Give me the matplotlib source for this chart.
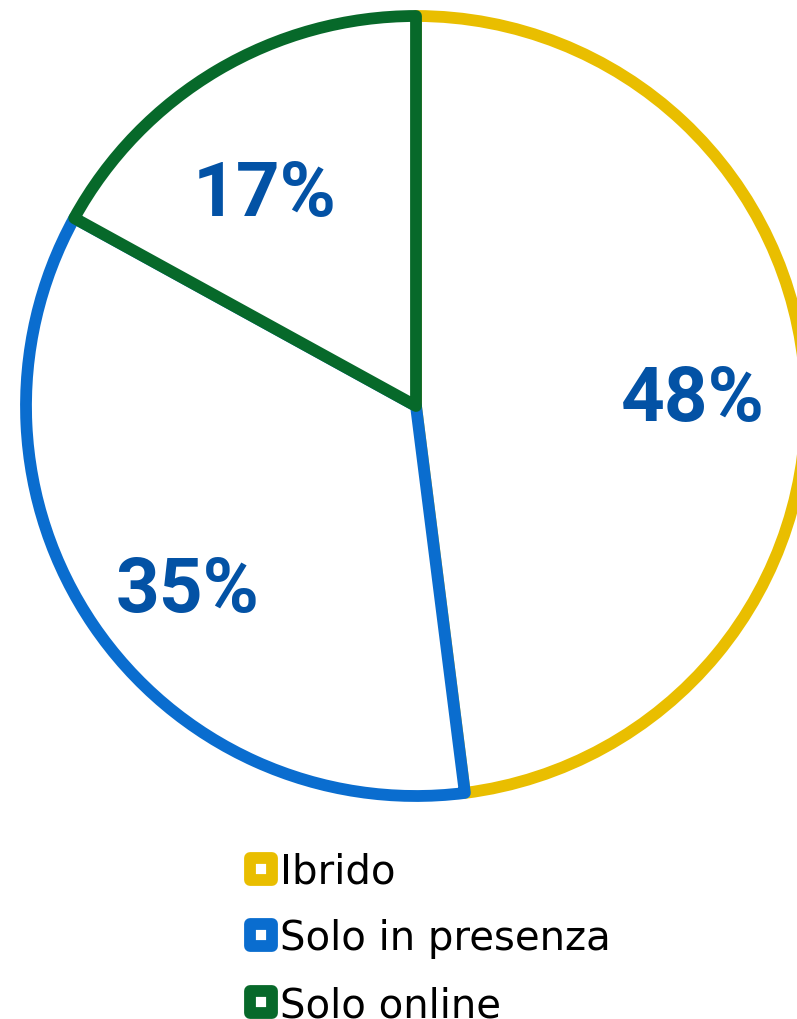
import numpy as np
import matplotlib.pyplot as plt
from matplotlib.lines import Line2D
from matplotlib.markers import MarkerStyle

# Dati
categorie = ['Ibrido', 'Solo in presenza', 'Solo online']
percentuali = [48, 35, 17]
colori = ['#E9BE00', '#0A6DCF', '#07692A']
colore_testo = '#0352A5'

# posizione etichette: distanza (frazione raggio) e spostamento angolare
distanze = [0.71, 0.74, 0.685]
delta_angolo = [-0.7, 3.6, 4.0]

fig = plt.figure(figsize=(7.97, 10.20), dpi=100)
ax = fig.add_axes([0, 0, 1, 1])

centro = (416, 613)
raggio = 390
wedges, testi, autotesti = ax.pie(
    percentuali, startangle=90, counterclock=False,
    center=centro, radius=raggio,
    colors=['white'] * 3,
    autopct='%1.0f%%', pctdistance=0.71,
    wedgeprops=dict(linewidth=8.5, joinstyle='round'),
    textprops=dict(color=colore_testo, fontsize=55, fontweight='bold',
                   family='Roboto'),
)
for w, c in zip(wedges, colori):
    w.set_edgecolor(c)

# riposiziona le percentuali come nell'originale
for w, t, d, da in zip(wedges, autotesti, distanze, delta_angolo):
    ang = np.deg2rad((w.theta1 + w.theta2) / 2 + da)
    t.set_position((centro[0] + d * raggio * np.cos(ang),
                    centro[1] + d * raggio * np.sin(ang)))
    t.set_va('center_baseline')

ax.set_xlim(0, 797)
ax.set_ylim(0, 1020)
ax.set_aspect('equal')
ax.axis('off')

# legenda con quadratini
marker = MarkerStyle('s', joinstyle='round')
maniglie = [Line2D([], [], linestyle='none', marker=marker, markersize=16.5,
                   markerfacecolor='white', markeredgecolor=c, markeredgewidth=8.5)
            for c in colori]
fig.legend(maniglie, categorie, loc='center left', bbox_to_anchor=(0.305, 0.079),
           frameon=False, fontsize=29, handlelength=0.9, handletextpad=0.02,
           labelspacing=0.66, borderaxespad=0, borderpad=0)

fig.savefig('out.png', dpi=100)
